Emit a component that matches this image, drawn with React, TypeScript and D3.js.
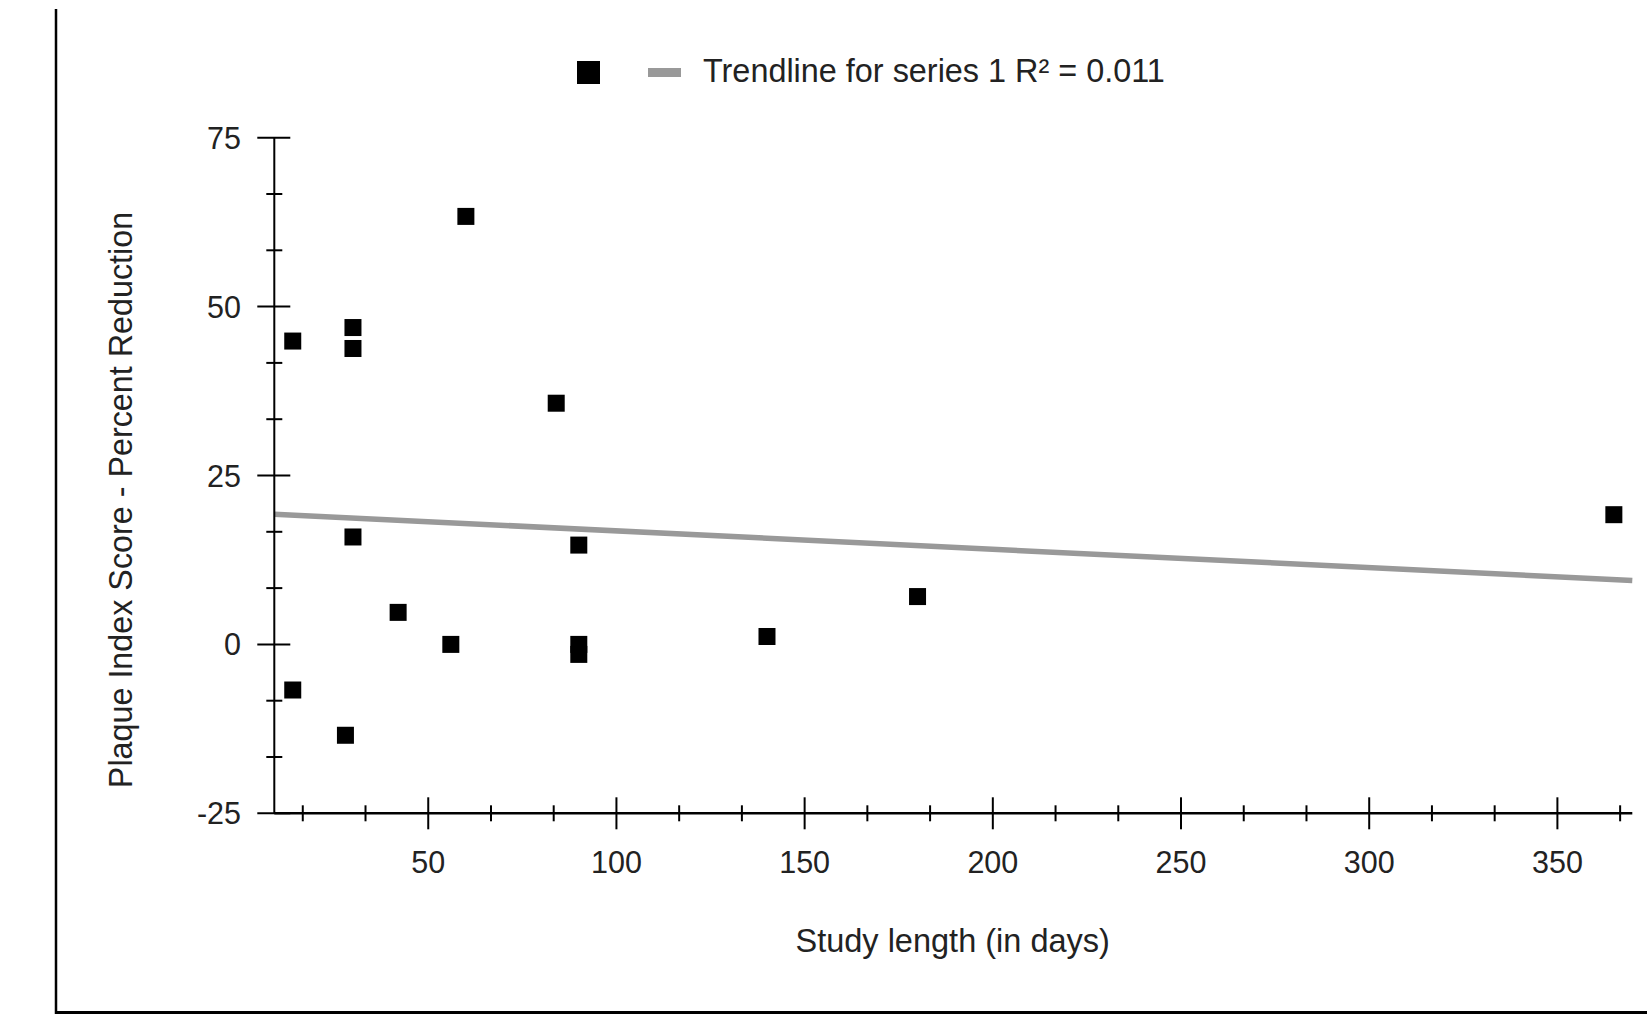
import React from "react";
import * as d3 from "d3";

const studyDays = [14, 14, 30, 30, 30, 28, 42, 60, 56, 84, 90, 90, 90, 140, 180, 365];
const plaqueReduction = [44.9, -6.75, 46.9, 43.8, 15.9, -13.45, 4.74, 63.35, 0, 35.7, 14.7, 0, -1.48, 1.17, 7.08, 19.2];
const xMajorTicks = [50, 100, 150, 200, 250, 300, 350];
const yMajorTicks = [-25, 0, 25, 50, 75];
const legendLabel = "Trendline for series 1 R² = 0.011";
const xTitle = "Study length (in days)";
const yTitle = "Plaque Index Score - Percent Reduction";

const W = 1647;
const H = 1023;
const FONT = "'Liberation Sans', Arial, Helvetica, sans-serif";

export default function App() {
  const x = d3.scaleLinear().domain([9.1, 369.9]).range([274.3, 1632.3]);
  const y = d3.scaleLinear().domain([-25, 75]).range([813.3, 137.7]);

  // minor ticks at thirds of major spacing
  const xMinor: number[] = [];
  for (let i = 1; i * (50 / 3) <= 369.9; i++) {
    const v = i * (50 / 3);
    if (i % 3 !== 0) xMinor.push(v);
  }
  const yMinor: number[] = [];
  for (let i = -3; i * (25 / 3) <= 75; i++) {
    if (i % 3 !== 0) yMinor.push(i * (25 / 3));
  }

  // least squares trendline
  const pts = studyDays.map((d, i) => [d, plaqueReduction[i]] as [number, number]);
  const mx = d3.mean(pts, (p) => p[0]) as number;
  const my = d3.mean(pts, (p) => p[1]) as number;
  const sxy = d3.sum(pts, (p) => (p[0] - mx) * (p[1] - my));
  const sxx = d3.sum(pts, (p) => (p[0] - mx) * (p[0] - mx));
  const slope = sxy / sxx;
  const icpt = my - slope * mx;
  const [x0, x1] = x.domain();
  const line = d3
    .line<number>()
    .x((d) => x(d))
    .y((d) => y(icpt + slope * d));

  const ms = 17;

  return (
    <svg
      width={W}
      height={H}
      style={{ position: "absolute", left: 0, top: 0, background: "#fff" }}
      fontFamily={FONT}
    >
      <rect x={0} y={0} width={W} height={H} fill="#fff" />
      {/* frame */}
      <line x1={56} y1={9} x2={56} y2={1014} stroke="#000" strokeWidth={2.5} />
      <line x1={55} y1={1012.5} x2={W} y2={1012.5} stroke="#000" strokeWidth={3} />

      {/* legend */}
      <rect x={588.5 - 11.5} y={72.5 - 11.5} width={23} height={23} fill="#000" />
      <rect x={648} y={68} width={33} height={9} fill="#999" />
      <text x={703} y={82} fontSize={32.4} fill="#222">
        {legendLabel}
      </text>

      {/* trendline */}
      <path d={line([x0, x1]) || ""} stroke="#999" strokeWidth={5.5} fill="none" />

      {/* y axis */}
      <line x1={x(x0)} y1={y(75)} x2={x(x0)} y2={y(-25)} stroke="#000" strokeWidth={2} />
      {yMajorTicks.map((t) => (
        <g key={"ym" + t}>
          <line x1={x(x0) - 17} x2={x(x0) + 16} y1={y(t)} y2={y(t)} stroke="#000" strokeWidth={2} />
          <text x={241} y={y(t) + 11} textAnchor="end" fontSize={30.5} fill="#222">
            {t}
          </text>
        </g>
      ))}
      {yMinor.map((t, i) => (
        <line key={"yn" + i} x1={x(x0) - 8} x2={x(x0) + 8} y1={y(t)} y2={y(t)} stroke="#000" strokeWidth={2} />
      ))}

      {/* x axis */}
      <line x1={x(x0)} y1={y(-25)} x2={x(x1)} y2={y(-25)} stroke="#000" strokeWidth={2.5} />
      {xMajorTicks.map((t) => (
        <g key={"xm" + t}>
          <line x1={x(t)} x2={x(t)} y1={y(-25) - 16} y2={y(-25) + 16} stroke="#000" strokeWidth={2} />
          <text x={x(t)} y={872.5} textAnchor="middle" fontSize={30.5} fill="#222">
            {t}
          </text>
        </g>
      ))}
      {xMinor.map((t, i) => (
        <line key={"xn" + i} x1={x(t)} x2={x(t)} y1={y(-25) - 8} y2={y(-25) + 8} stroke="#000" strokeWidth={2} />
      ))}

      {/* points */}
      {pts.map((p, i) => (
        <rect key={"p" + i} x={x(p[0]) - ms / 2} y={y(p[1]) - ms / 2} width={ms} height={ms} fill="#000" />
      ))}

      {/* titles */}
      <text x={952.7} y={951.5} textAnchor="middle" fontSize={32.5} fill="#222">
        {xTitle}
      </text>
      <text
        transform={`translate(131.5,500) rotate(-90)`}
        textAnchor="middle"
        fontSize={32.3}
        fill="#222"
      >
        {yTitle}
      </text>
    </svg>
  );
}
